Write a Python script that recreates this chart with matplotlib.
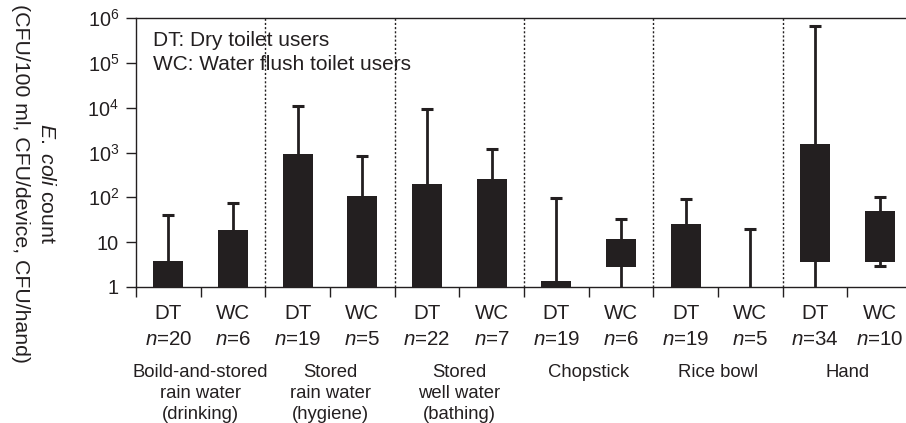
import matplotlib
matplotlib.use("Agg")
import matplotlib.pyplot as plt
import matplotlib.transforms as mtransforms
import numpy as np

plt.rcParams['font.family'] = ['Liberation Sans', 'DejaVu Sans']
plt.rcParams['mathtext.fontset'] = 'custom'
plt.rcParams['mathtext.rm'] = 'Liberation Sans'
plt.rcParams['mathtext.it'] = 'Liberation Sans:italic'

# ---- data ----
categories = ["Boild-and-stored\nrain water\n(drinking)", "Stored\nrain water\n(hygiene)",
              "Stored\nwell water\n(bathing)", "Chopstick", "Rice bowl", "Hand"]
groups = ["DT", "WC"]
n_values = [20, 6, 19, 5, 22, 7, 19, 6, 19, 5, 34, 10]
bar_low = [1, 1, 1, 1, 1, 1, 1, 2.75, 1, 1, 3.7, 3.55]
bar_high = [3.9, 19, 940, 109, 202, 261, 1.38, 12, 26, 1, 1570, 50]
whisker_high = [41, 73, 11100, 850, 9200, 1200, 98, 33, 90, 19.3, 674000, 102]
whisker_low = [1, 1, 1, 1, 1, 1, 1, 1, 1, 1, 1, 3.0]
yticks = [1, 10, 100, 1e3, 1e4, 1e5, 1e6]
yticklabels = ["1", "10", "$10^2$", "$10^3$", "$10^4$", "$10^5$", "$10^6$"]
legend_lines = ["DT: Dry toilet users", "WC: Water flush toilet users"]

dark = '#231f20'
W, H = 906, 423
fig = plt.figure(figsize=(W / 100, H / 100), dpi=100)
ax = fig.add_axes([136 / W, (H - 287) / H, 776 / W, 269 / H])

nslots = len(categories) * len(groups)
x = np.arange(nslots) + 0.5
low = np.array(bar_low)
high = np.array(bar_high)
ax.bar(x, high - low, bottom=low, width=0.46, color=dark, zorder=3)
ax.vlines(x, whisker_low, whisker_high, color=dark, lw=2, zorder=2)
ax.plot(x, whisker_high, ls='none', marker='_', ms=9, mew=2.2, color=dark, zorder=2)
wl = np.array(whisker_low)
mask = wl > 1
ax.plot(x[mask], wl[mask], ls='none', marker='_', ms=9, mew=2.2, color=dark, zorder=2)

ax.set_yscale('log')
ax.set_ylim(1, 1e6)
ax.set_xlim(0, nslots)
ax.set_yticks(yticks)
ax.set_yticklabels(yticklabels)
ax.minorticks_off()
ax.set_xticks(np.arange(nslots))
ax.set_xticklabels([])
ax.tick_params(axis='both', direction='out', length=7.2, width=1, color=dark,
               labelsize=14.3, labelcolor=dark)
ax.tick_params(axis='y', pad=5)
for s in ax.spines.values():
    s.set_color(dark)
    s.set_linewidth(1)

for b in range(2, nslots, 2):
    ax.axvline(b, color=dark, lw=1, ls=(0, (1.5, 1.5)), zorder=1)

trans = mtransforms.blended_transform_factory(ax.transData, ax.transAxes)
for i in range(nslots):
    ax.text(x[i], -0.097, groups[i % 2], transform=trans, ha='center', va='center',
            fontsize=14.8, color=dark)
    ax.text(x[i], -0.197, f"$n$={n_values[i]}", transform=trans, ha='center', va='center',
            fontsize=14.8, color=dark)
for j, c in enumerate(categories):
    ax.text(2 * j + 1, -0.285, c, transform=trans, ha='center', va='top',
            fontsize=13.3, color=dark, linespacing=1.33)

ax.text(0.022, 0.918, legend_lines[0], transform=ax.transAxes, ha='left', va='center',
        fontsize=15, color=dark)
ax.text(0.022, 0.827, legend_lines[1], transform=ax.transAxes, ha='left', va='center',
        fontsize=15, color=dark)

fig.text(46 / W, 1 - 184 / H, r"$E.\ coli$ count", rotation=-90, ha='center', va='center',
         fontsize=15.3, color=dark)
fig.text(20 / W, 1 - 184 / H, "(CFU/100 ml, CFU/device, CFU/hand)", rotation=-90,
         ha='center', va='center', fontsize=15.3, color=dark)

fig.savefig("out.png", dpi=100)
